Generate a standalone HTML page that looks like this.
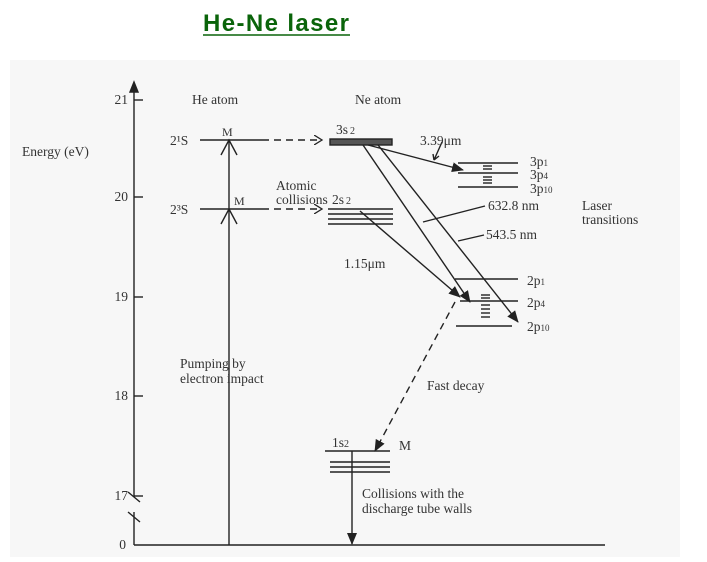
<!DOCTYPE html>
<html><head><style>
body{margin:0;background:#fff;width:707px;height:562px;overflow:hidden}
svg{display:block}
text{font-family:"Liberation Serif",serif;fill:#333;font-size:13.5px}
</style></head><body>
<svg width="707" height="562" viewBox="0 0 707 562">
<defs>
<marker id="a" markerWidth="12" markerHeight="10" refX="11" refY="5" orient="auto" markerUnits="userSpaceOnUse"><path d="M0,0 L12,5 L0,10 Z" fill="#222"/></marker>
<marker id="o" markerWidth="10" markerHeight="10" refX="8" refY="5" orient="auto" markerUnits="userSpaceOnUse"><path d="M0,0 L8,5 L0,10" fill="none" stroke="#222" stroke-width="1.3"/></marker>
</defs>
<rect x="10" y="60" width="670" height="497" fill="#f7f7f7"/>
<text x="276" y="31" text-anchor="middle" textLength="146" style="font-family:'Liberation Sans',sans-serif;font-weight:bold;font-size:24px;fill:#0a640a">He-Ne laser</text>
<line x1="203" y1="35" x2="350" y2="35" stroke="#0a640a" stroke-width="1.5"/>
<g stroke="#222" stroke-width="1.4" fill="none">
<line x1="134" y1="90" x2="134" y2="497"/>
<path d="M130,92 L134,82 L138,92 Z" fill="#222"/>
<line x1="134" y1="512" x2="134" y2="545"/>
<line x1="128" y1="492" x2="140" y2="502"/>
<line x1="128" y1="512" x2="140" y2="522"/>
<line x1="134" y1="545" x2="605" y2="545"/>
<line x1="134" y1="100" x2="143" y2="100"/>
<line x1="134" y1="197" x2="143" y2="197"/>
<line x1="134" y1="297" x2="143" y2="297"/>
<line x1="134" y1="396" x2="143" y2="396"/>
<line x1="134" y1="496" x2="143" y2="496"/>
<line x1="229" y1="545" x2="229" y2="140"/>
<path d="M221,155 L229,140 L237,155"/>
<path d="M221,224 L229,209 L237,224"/>
<line x1="200" y1="140" x2="262" y2="140"/>
<line x1="200" y1="209" x2="262" y2="209"/>
<line x1="262" y1="140" x2="322" y2="140" stroke-dasharray="7,5" marker-end="url(#o)"/>
<line x1="262" y1="209" x2="322" y2="209" stroke-dasharray="7,5" marker-end="url(#o)"/>
<rect x="330" y="139" width="62" height="6" fill="#555"/>
<line x1="328" y1="209" x2="393" y2="209"/><line x1="328" y1="214" x2="393" y2="214"/>
<line x1="328" y1="219" x2="393" y2="219"/><line x1="328" y1="224" x2="393" y2="224"/>
<line x1="458" y1="163" x2="518" y2="163"/><line x1="458" y1="173" x2="518" y2="173"/><line x1="458" y1="187" x2="518" y2="187"/>
<line x1="483" y1="166" x2="492" y2="166"/><line x1="483" y1="169" x2="492" y2="169"/><line x1="483" y1="177" x2="492" y2="177"/><line x1="483" y1="180" x2="492" y2="180"/><line x1="483" y1="183" x2="492" y2="183"/>
<line x1="455" y1="279" x2="518" y2="279"/><line x1="460" y1="301" x2="518" y2="301"/><line x1="456" y1="326" x2="512" y2="326"/>
<line x1="481" y1="295" x2="490" y2="295"/><line x1="481" y1="298" x2="490" y2="298"/><line x1="481" y1="305" x2="490" y2="305"/><line x1="481" y1="309" x2="490" y2="309"/><line x1="481" y1="313" x2="490" y2="313"/><line x1="481" y1="317" x2="490" y2="317"/>
<line x1="368" y1="145" x2="463" y2="170" marker-end="url(#a)"/>
<line x1="363" y1="145" x2="470" y2="302" marker-end="url(#a)"/>
<line x1="378" y1="145" x2="518" y2="322" marker-end="url(#a)"/>
<line x1="360" y1="211" x2="460" y2="297" marker-end="url(#a)"/>
<path d="M442,142 L434,160 M434,160 l-1,-6 M434,160 l5,-4"/>
<line x1="485" y1="206" x2="423" y2="222"/>
<line x1="484" y1="235" x2="458" y2="241"/>
<line x1="455" y1="302" x2="375" y2="451" stroke-dasharray="7,5" marker-end="url(#a)"/>
<line x1="325" y1="451" x2="390" y2="451"/>
<line x1="330" y1="462" x2="390" y2="462"/><line x1="330" y1="467" x2="390" y2="467"/><line x1="330" y1="472" x2="390" y2="472"/>
<line x1="352" y1="451" x2="352" y2="544" marker-end="url(#a)"/>
</g>
<text x="128" y="104" text-anchor="end">21</text>
<text x="128" y="201" text-anchor="end">20</text>
<text x="128" y="301" text-anchor="end">19</text>
<text x="128" y="400" text-anchor="end">18</text>
<text x="128" y="500" text-anchor="end">17</text>
<text x="126" y="549" text-anchor="end">0</text>
<text x="22" y="156">Energy (eV)</text>
<text x="192" y="104">He atom</text>
<text x="355" y="104">Ne atom</text>
<text x="170" y="145">2¹S</text><text x="170" y="214">2³S</text>
<text x="222" y="136" style="font-size:12px">M</text><text x="234" y="205" style="font-size:12px">M</text>
<text x="336" y="134">3s<tspan font-size="10" dx="2">2</tspan></text>
<text x="332" y="204">2s<tspan font-size="10" dx="2">2</tspan></text>
<text x="276" y="190">Atomic</text><text x="276" y="204">collisions</text>
<text x="420" y="145">3.39μm</text>
<text x="530" y="166">3p<tspan font-size="9">1</tspan></text>
<text x="530" y="179">3p<tspan font-size="9">4</tspan></text>
<text x="530" y="193">3p<tspan font-size="9">10</tspan></text>
<text x="488" y="210">632.8 nm</text>
<text x="486" y="239">543.5 nm</text>
<text x="582" y="210">Laser</text><text x="582" y="224">transitions</text>
<text x="344" y="268">1.15μm</text>
<text x="527" y="285">2p<tspan font-size="9">1</tspan></text>
<text x="527" y="307">2p<tspan font-size="9">4</tspan></text>
<text x="527" y="331">2p<tspan font-size="9">10</tspan></text>
<text x="180" y="368">Pumping by</text><text x="180" y="383">electron impact</text>
<text x="427" y="390">Fast decay</text>
<text x="332" y="447">1s<tspan font-size="10">2</tspan></text>
<text x="399" y="450">M</text>
<text x="362" y="498">Collisions with the</text><text x="362" y="513">discharge tube walls</text>
</svg>
</body></html>
